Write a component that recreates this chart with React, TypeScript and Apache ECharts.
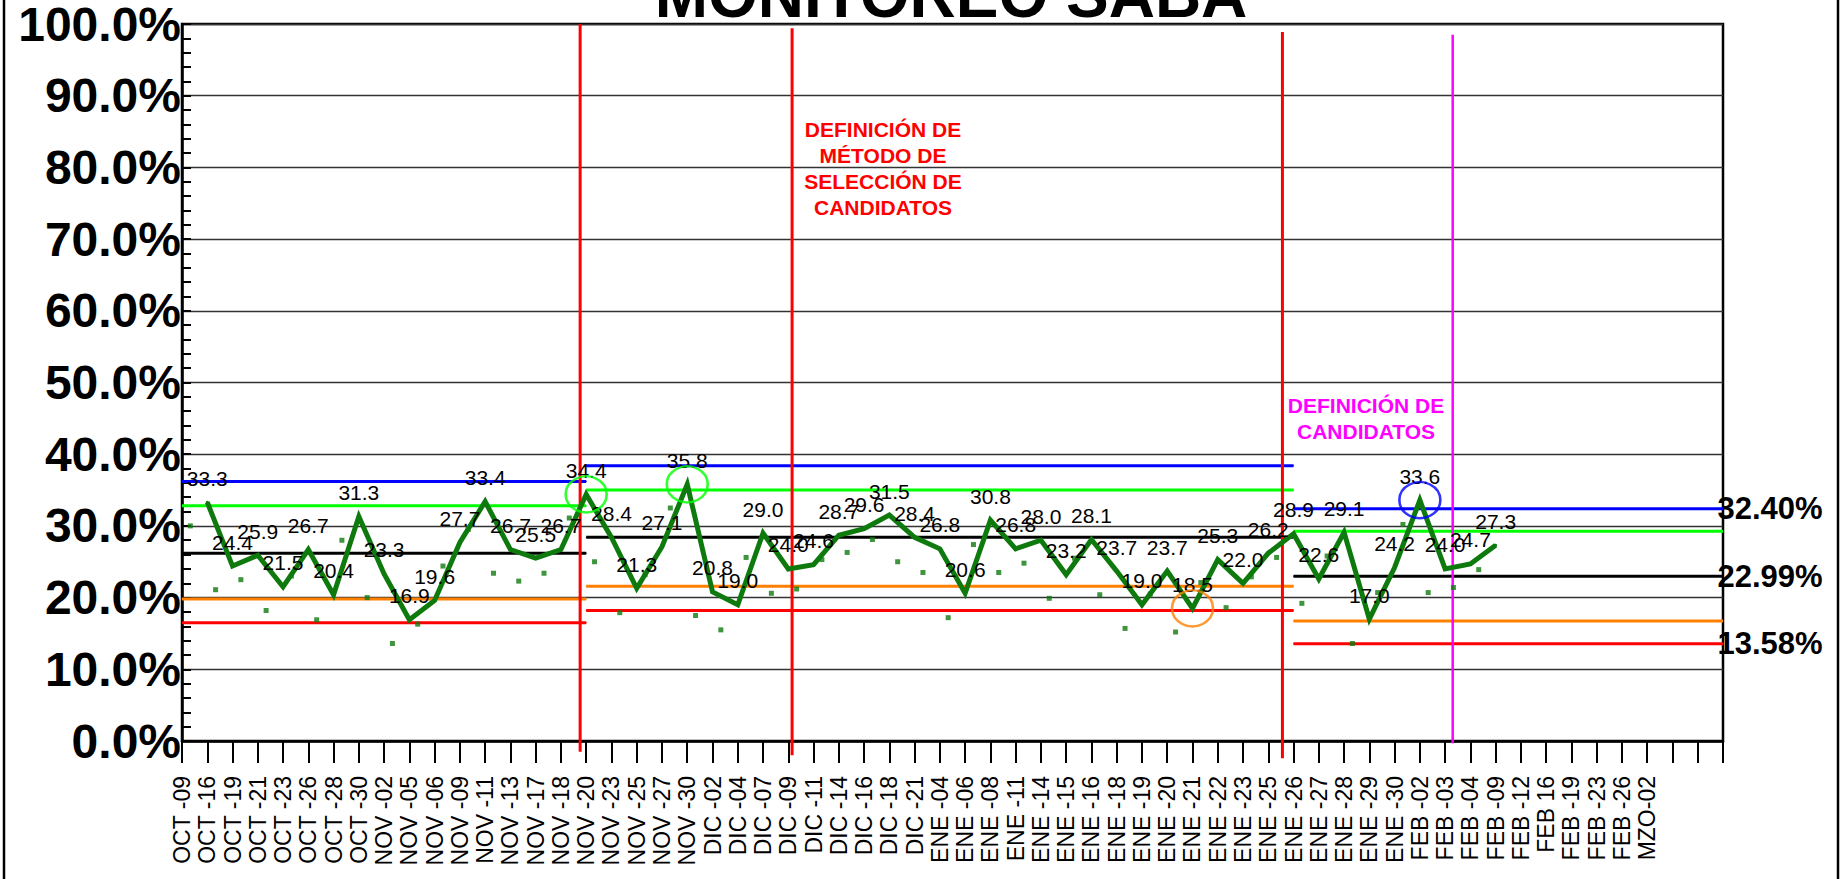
import React, { useEffect, useRef } from 'react';
import * as echarts from 'echarts';

const FONT = '"Liberation Sans", Arial, Helvetica, sans-serif';

// x-axis tick labels (one per tick, the last ticks are empty)
const categories = [
  'OCT -09', 'OCT -16', 'OCT -19', 'OCT -21', 'OCT -23', 'OCT -26', 'OCT -28', 'OCT -30',
  'NOV -02', 'NOV -05', 'NOV -06', 'NOV -09', 'NOV -11', 'NOV -13', 'NOV -17', 'NOV -18',
  'NOV -20', 'NOV -23', 'NOV -25', 'NOV -27', 'NOV -30',
  'DIC -02', 'DIC -04', 'DIC -07', 'DIC -09', 'DIC -11', 'DIC -14', 'DIC -16', 'DIC -18', 'DIC -21',
  'ENE -04', 'ENE -06', 'ENE -08', 'ENE -11', 'ENE -14', 'ENE -15', 'ENE -16', 'ENE -18', 'ENE -19',
  'ENE -20', 'ENE -21', 'ENE -22', 'ENE -23', 'ENE -25', 'ENE -26', 'ENE -27', 'ENE -28', 'ENE -29', 'ENE -30',
  'FEB -02', 'FEB -03', 'FEB -04', 'FEB -09', 'FEB -12', 'FEB 16', 'FEB -19', 'FEB -23', 'FEB -26',
  'MZO-02', '', '', '',
];

// main (thick green) series, labelled values in %
const rateValues = [
  33.3, 24.4, 25.9, 21.5, 26.7, 20.4, 31.3, 23.3, 16.9, 19.6, 27.7, 33.4, 26.7, 25.5, 26.7, 34.4,
  28.4, 21.3, 27.1, 35.8, 20.8, 19.0, 29.0, 24.0, 24.6, 28.7, 29.6, 31.5, 28.4, 26.8, 20.6, 30.8,
  26.8, 28.0, 23.2, 28.1, 23.7, 19.0, 23.7, 18.5, 25.3, 22.0, 26.2, 28.9, 22.6, 29.1, 17.0, 24.2,
  33.6, 24.0, 24.7, 27.3,
];

// small square markers (daily values) in %
const dailyValues = [
  30.0, 21.1, 22.5, 18.2, 23.0, 16.9, 28.0, 20.0, 13.6, 16.3, 24.4, 29.5, 23.4, 22.3, 23.4, 31.1,
  25.0, 17.9, 23.2, 32.5, 17.5, 15.5, 25.6, 20.6, 21.2, 25.3, 26.3, 28.1, 25.0, 23.5, 17.2, 27.4,
  23.5, 24.8, 19.9, 25.5, 20.4, 15.7, 20.5, 15.2, 22.1, 18.6, 22.9, 25.6, 19.2, 25.8, 13.6, 20.7,
  30.2, 20.7, 21.4, 23.9,
];

const lineTickOffset = 1;
const dotTickOffset = 0.33;

// control-limit segments
const segStart = [0, 16, 44];
const segEnd = [16, 44, 61];
const limitUpper3 = [36.2, 38.4, 32.40];
const limitUpper2 = [32.8, 35.0, 29.26];
const limitMean = [26.2, 28.4, 22.99];
const limitLower2 = [19.8, 21.6, 16.72];
const limitLower3 = [16.5, 18.2, 13.58];

// vertical event lines
const eventX = [15.76, 24.15, 43.56, 50.3];
const eventTop = [100, 99.4, 98.9, 98.5];
const eventBottom = [-1.5, -2, -2.4, -0.3];
const eventColor = ['#ff0000', '#ff0000', '#ff0000', '#ff00ff'];

// circled points
const highlightIndex = [15, 19, 39, 48];
const highlightColor = ['#00ff00', '#00ff00', '#ff8000', '#0000ff'];

const LINE_GREEN = 'rgb(14,122,14)';

export default function App() {
  const ref = useRef<HTMLDivElement>(null);

  useEffect(() => {
    if (!ref.current) return;
    const chart = echarts.init(ref.current, undefined, { renderer: 'svg' });

    const series: any[] = [];

    const limits = [
      { vals: limitUpper3, color: '#0000ff', labelled: true },
      { vals: limitUpper2, color: '#00ff00', labelled: false },
      { vals: limitMean, color: '#000000', labelled: true },
      { vals: limitLower2, color: '#ff8000', labelled: false },
      { vals: limitLower3, color: '#ff0000', labelled: true },
    ];
    limits.forEach((lim) => {
      segStart.forEach((s, k) => {
        const last = k === segStart.length - 1;
        series.push({
          type: 'line',
          silent: true,
          z: 2,
          symbol: 'circle',
          symbolSize: 1,
          showSymbol: true,
          itemStyle: { color: lim.color },
          lineStyle: { color: lim.color, width: 3 },
          label: { show: false },
          data: [
            [s, lim.vals[k]],
            {
              value: [segEnd[k], lim.vals[k]],
              label: lim.labelled && last
                ? {
                    show: true,
                    position: 'right',
                    distance: -6,
                    formatter: (p: any) => p.value[1].toFixed(2) + '%',
                    fontSize: 31,
                    fontWeight: 'bold',
                    color: '#000',
                    fontFamily: FONT,
                  }
                : { show: false },
            },
          ],
        });
      });
    });

    eventX.forEach((x, k) => {
      series.push({
        type: 'line',
        silent: true,
        clip: false,
        z: 3,
        symbol: 'none',
        lineStyle: { color: eventColor[k], width: k === 3 ? 2.5 : 3 },
        data: [
          [x, eventTop[k]],
          [x, eventBottom[k]],
        ],
      });
    });

    series.push({
      type: 'scatter',
      silent: true,
      z: 4,
      symbol: 'rect',
      symbolSize: 5,
      itemStyle: { color: LINE_GREEN },
      data: dailyValues.map((v, i) => [i + dotTickOffset, v]),
    });

    series.push({
      type: 'line',
      silent: true,
      z: 5,
      symbol: 'circle',
      symbolSize: 3,
      showSymbol: true,
      itemStyle: { color: LINE_GREEN },
      lineStyle: { color: LINE_GREEN, width: 5, join: 'miter' },
      label: {
        show: true,
        position: 'top',
        distance: 12,
        fontSize: 21,
        color: '#000',
        fontFamily: FONT,
        formatter: (p: any) => p.value[1].toFixed(1),
      },
      data: rateValues.map((v, i) => [i + lineTickOffset, v]),
    });

    series.push({
      type: 'scatter',
      silent: true,
      z: 6,
      symbol: 'circle',
      symbolSize: [41, 36],
      itemStyle: { color: 'rgba(0,0,0,0)', borderWidth: 2.5 },
      data: highlightIndex.map((idx, k) => ({
        value: [idx + lineTickOffset, rateValues[idx]],
        itemStyle: { borderColor: highlightColor[k], color: 'rgba(0,0,0,0)', borderWidth: 2.5 },
      })),
    });

    chart.setOption({
      animation: false,
      backgroundColor: '#ffffff',
      title: {
        text: 'MONITOREO SABA',
        left: 946,
        top: -42,
        textAlign: 'center',
        textStyle: { fontSize: 64, fontWeight: 'bold', color: '#000', fontFamily: FONT },
      },
      grid: {
        left: 182,
        right: 120,
        top: 24,
        bottom: 138,
        show: true,
        borderColor: '#000',
        borderWidth: 2.5,
        backgroundColor: 'transparent',
      },
      xAxis: {
        type: 'value',
        min: 0,
        max: 61,
        interval: 1,
        axisLine: { show: true, lineStyle: { color: '#000', width: 2.5 } },
        axisTick: { show: true, inside: false, length: 22, lineStyle: { color: '#000', width: 2 } },
        splitLine: { show: false },
        axisLabel: {
          rotate: 90,
          margin: 35,
          fontSize: 23,
          color: '#000',
          fontFamily: FONT,
          formatter: (v: number) => categories[Math.round(v)] ?? '',
        },
      },
      yAxis: {
        type: 'value',
        min: 0,
        max: 100,
        interval: 10,
        axisLine: { show: true, lineStyle: { color: '#000', width: 2.5 } },
        axisTick: { show: true, inside: true, length: 9, lineStyle: { color: '#000', width: 2 } },
        minorTick: { show: true, splitNumber: 5, length: 9, lineStyle: { color: '#000', width: 2 } },
        splitLine: { show: true, lineStyle: { color: '#333', width: 1.3 } },
        axisLabel: {
          margin: 1,
          fontSize: 48,
          fontWeight: 'bold',
          color: '#000',
          fontFamily: FONT,
          formatter: (v: number) => v.toFixed(1) + '%',
        },
      },
      graphic: [
        {
          type: 'rect',
          silent: true,
          z: 100,
          shape: { x: 4, y: -10, width: 1834, height: 900 },
          style: { fill: 'none', stroke: '#000', lineWidth: 2.5 },
        },
        {
          type: 'text',
          silent: true,
          z: 100,
          x: 883,
          y: 116,
          style: {
            text: 'DEFINICIÓN DE\nMÉTODO DE\nSELECCIÓN DE\nCANDIDATOS',
            fill: '#ff0000',
            font: 'bold 21px ' + FONT,
            align: 'center',
            verticalAlign: 'top',
            lineHeight: 26,
          },
        },
        {
          type: 'text',
          silent: true,
          z: 100,
          x: 1366,
          y: 392,
          style: {
            text: 'DEFINICIÓN DE\nCANDIDATOS',
            fill: '#ff00ff',
            font: 'bold 21px ' + FONT,
            align: 'center',
            verticalAlign: 'top',
            lineHeight: 26,
          },
        },
      ],
      series,
    });

    return () => chart.dispose();
  }, []);

  return (
    <div
      ref={ref}
      style={{ position: 'fixed', left: 0, top: 0, width: 1843, height: 879, background: '#fff' }}
    />
  );
}
